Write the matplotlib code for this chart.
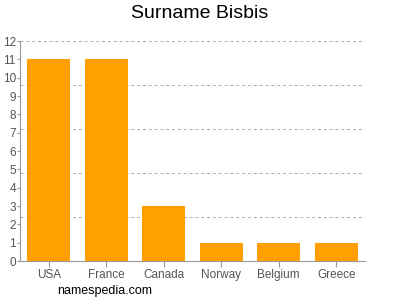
import numpy as np
import matplotlib
matplotlib.use("Agg")
import matplotlib.pyplot as plt

plt.rcParams["font.family"] = ["Liberation Sans", "DejaVu Sans"]

# data
countries = ["USA", "France", "Canada", "Norway", "Belgium", "Greece"]
counts = [11, 11, 3, 1, 1, 1]
y_ticks = list(range(0, 13))
grid_levels = [2.4, 4.8, 7.2, 9.6, 12.0]

bar_color = "#ffa000"
axis_color = "#999999"
text_color = "#555555"

fig = plt.figure(figsize=(4, 3), dpi=100)
ax = fig.add_axes([0.05, 0.13, 0.8625, 0.733])

x = np.arange(len(countries))
ax.bar(x, counts, width=0.74, color=bar_color, zorder=3)

# dashed grid lines (not on the integer ticks)
for g in grid_levels:
    ax.axhline(g, color="#aaaaaa", linestyle=(0, (3, 3)), linewidth=0.7, zorder=1)

ax.set_xlim(-0.5, len(countries) - 0.5)
ax.set_ylim(0, 12)
ax.set_yticks(y_ticks)
ax.set_xticks(x)
ax.set_xticklabels(countries)

for side in ["top", "right"]:
    ax.spines[side].set_visible(False)
ax.spines["left"].set_color(axis_color)
ax.spines["bottom"].set_color(axis_color)

ax.tick_params(axis="y", length=2, width=0.8, color=axis_color,
               labelcolor=text_color, labelsize=8.5, pad=1)
ax.tick_params(axis="x", length=4, width=0.8, color=axis_color,
               labelcolor=text_color, labelsize=8.5, pad=2)

fig.text(0.5, 0.955, "Surname Bisbis", ha="center", va="center", fontsize=14, color="#000000")
fig.text(0.262, 0.03, "namespedia.com", ha="center", va="center", fontsize=9, color="#000000")

fig.savefig("out.png", dpi=100)
